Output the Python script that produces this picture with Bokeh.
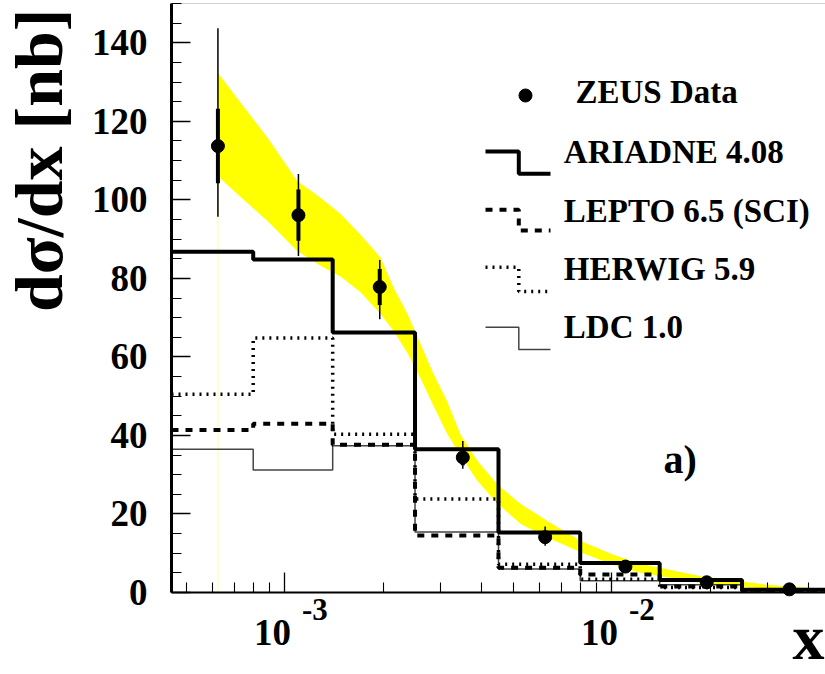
from math import log10, pi
from bokeh.plotting import figure
from bokeh.models import Label, FixedTicker, SingleIntervalTicker, CustomJSTickFormatter, BoxAnnotation
from bokeh.embed import file_html
from bokeh.resources import INLINE

# ---------------- data ----------------
bin_edges = [4.5e-4, 8e-4, 1.4e-3, 2.5e-3, 4.5e-3, 8e-3, 1.4e-2, 2.5e-2, 4.5e-2]
ariadne = [86.8, 84.8, 66.2, 36.5, 15.3, 7.5, 3.2, 0.7]
lepto = [41.4, 43.0, 37.6, 14.5, 6.3, 4.6, 1.5, 0.4]
herwig = [50.5, 64.8, 40.3, 23.8, 7.2, 3.4, 1.3, 0.3]
ldc = [36.5, 31.2, 37.4, 15.4, 6.0, 3.0, 2.0, 0.5]

data_x = [6.24e-4, 1.10e-3, 1.95e-3, 3.50e-3, 6.25e-3, 1.10e-2, 1.95e-2, 3.49e-2]
data_y = [113.7, 96.1, 77.8, 34.4, 14.1, 6.6, 2.6, 0.8]
stat_err = [9.5, 6.5, 4.6, 2.0, 1.3, 0.7, 0.4, 0.2]
tot_up = [30.0, 10.5, 6.9, 4.2, 2.7, 1.2, 0.6, 0.3]
tot_dn = [18.0, 10.4, 8.2, 2.9, 2.2, 1.0, 0.5, 0.3]

band_x = [6.24e-4, 7.0e-4, 8.85e-4, 1.09e-3, 1.285e-3, 1.48e-3, 1.70e-3, 1.96e-3,
          2.15e-3, 2.37e-3, 2.6e-3, 2.85e-3, 3.13e-3, 3.44e-3, 3.87e-3, 4.45e-3,
          5.25e-3, 6.33e-3, 8.0e-3, 1.01e-2, 1.22e-2, 1.86e-2, 2.97e-2, 4.5e-2]
band_hi = [132.3, 126.8, 115.8, 104.8, 100.5, 96.4, 91.2, 85.3, 77.6, 70.9, 63.2, 55.6,
           48.8, 40.3, 33.6, 27.6, 22.6, 18.3, 13.2, 9.6, 7.3, 4.2, 2.0, 0.9]
band_lo = [106.0, 102.2, 94.6, 87.0, 83.2, 80.5, 76.5, 71.0, 66.6, 61.0, 54.5, 47.5,
           40.5, 35.0, 28.5, 22.8, 17.5, 14.1, 10.3, 7.0, 5.0, 2.5, 0.9, 0.3]

x_major = [1e-3, 1e-2]
x_tick_base = "10"
x_title = "x"
y_title = "dσ/dx [nb]"
panel_tag = "a)"
legend_names = ["ZEUS Data", "ARIADNE 4.08", "LEPTO 6.5 (SCI)", "HERWIG 5.9", "LDC 1.0"]

# ---------------- layout ----------------
X0, X1 = 4.5e-4, 4.5e-2          # data window (axes span)
Y0, Y1 = 0.0, 150.0
W, H = 825, 674
FL, FT, FW, FH = 171, 3, 654, 589  # where the data window sits in the canvas
FONT = "Liberation Serif"
DECADE = FW / log10(X1 / X0)
BASE_SHIFT = 0.35                  # label anchor sits this many em above the baseline


def fx(px):  # canvas pixel -> data x (log axis)
    return 10 ** (log10(X0) + (px - FL) / DECADE)


def fy(py):  # canvas pixel -> data y
    return Y1 - (py - FT) / FH * (Y1 - Y0)


# the frame covers the whole canvas; axes are pinned to the data window
p = figure(width=W, height=H, x_axis_type="log", x_range=(fx(0), fx(W)),
           y_range=(fy(H), fy(0)), output_backend="svg", toolbar_location=None,
           title=None, min_border=0)
p.grid.visible = False
p.outline_line_color = None
p.background_fill_color = "white"
p.border_fill_color = "white"

# thin frame round the data window
p.add_layout(BoxAnnotation(left=X0, right=X1, bottom=Y0, top=Y1, fill_color=None,
                           line_color="#666666", line_width=1, level="underlay"))

minor = [m * 10 ** e for e in (-4, -3, -2) for m in range(2, 10) if X0 <= m * 10 ** e <= X1]
xax = p.xaxis[0]
xax.fixed_location = Y0
xax.bounds = (X0, X1)
xax.ticker = FixedTicker(ticks=x_major, minor_ticks=minor)
xax.formatter = CustomJSTickFormatter(code="return ''")
xax.major_label_text_font_size = "0px"
xax.axis_line_width = 2
xax.major_tick_in = 20
xax.major_tick_out = 0
xax.minor_tick_in = 10
xax.minor_tick_out = 0
xax.major_tick_line_width = 1.3
xax.minor_tick_line_width = 1.1

yax = p.yaxis[0]
yax.fixed_location = X0
yax.bounds = (Y0, Y1)
yax.ticker = SingleIntervalTicker(interval=20, num_minor_ticks=4)
yax.axis_line_width = 3
yax.major_tick_in = 19
yax.major_tick_out = 0
yax.minor_tick_in = 10
yax.minor_tick_out = 0
yax.major_tick_line_width = 1.3
yax.minor_tick_line_width = 1.1
yax.major_label_text_font = FONT
yax.major_label_text_font_style = "bold"
yax.major_label_text_font_size = "37px"
yax.major_label_text_color = "black"
yax.major_label_standoff = 24

# band
p.varea(x=band_x, y1=band_lo, y2=band_hi, fill_color="#ffff00")
p.segment(x0=[band_x[0]], y0=[0], x1=[band_x[0]], y1=[band_lo[0]],
          line_color="#ffff99", line_width=1)


# histograms
def step(vals, **kw):
    p.step(x=bin_edges, y=list(vals) + [vals[-1]], mode="after", **kw)


LDC_ST = dict(line_color="#444444", line_width=1.5)
HER_ST = dict(line_color="black", line_width=3.5, line_dash="2 5")
LEP_ST = dict(line_color="black", line_width=4, line_dash="7 7")
ARI_ST = dict(line_color="black", line_width=4)
step(ldc, **LDC_ST)
step(herwig, **HER_ST)
step(lepto, **LEP_ST)
step(ariadne, **ARI_ST)

# data
p.segment(x0=data_x, x1=data_x, y0=[y - d for y, d in zip(data_y, tot_dn)],
          y1=[y + u for y, u in zip(data_y, tot_up)], line_color="black", line_width=1.5)
p.segment(x0=data_x, x1=data_x, y0=[y - e for y, e in zip(data_y, stat_err)],
          y1=[y + e for y, e in zip(data_y, stat_err)], line_color="black", line_width=4)
p.scatter(data_x, data_y, size=13, color="black")

# legend keys
lk0, lk1, lk2 = 485, 518.3, 550
key_y = [(151, 173.3), (209.3, 230), (266.7, 291), (326.7, 349)]
for (ya, yb), st in zip(key_y, [ARI_ST, LEP_ST, HER_ST, LDC_ST]):
    p.line([fx(lk0), fx(lk1), fx(lk1), fx(lk2)], [fy(ya), fy(ya), fy(yb), fy(yb)], **st)
p.scatter([fx(525)], [fy(95)], size=13, color="black")


def label(px, baseline, size, **kw):
    base = dict(x=fx(px), y=fy(baseline - BASE_SHIFT * size), text_font=FONT,
                text_font_style="bold", text_color="black", text_font_size=f"{size}px",
                text_baseline="alphabetic", text_align="left")
    base.update(kw)
    p.add_layout(Label(**base))


text_x = [575, 563.3, 563.3, 563.3, 563.3]
text_base = [103.3, 163.3, 221.7, 280, 338.3]
for name, tx, tb in zip(legend_names, text_x, text_base):
    label(tx, tb, 33, text=name)

label(663, 473.3, 40, text=panel_tag)

# x tick labels: base and exponent, placed relative to the tick values
for t in x_major:
    p.add_layout(Label(x=t, y=fy(645 - BASE_SHIFT * 37), x_offset=-12.5, text=x_tick_base,
                       text_font=FONT, text_font_style="bold", text_color="black",
                       text_font_size="37px", text_align="center", text_baseline="alphabetic"))
    p.add_layout(Label(x=t, y=fy(620 - BASE_SHIFT * 31), x_offset=30, text=str(round(log10(t))),
                       text_font=FONT, text_font_style="bold", text_color="black",
                       text_font_size="31px", text_align="center", text_baseline="alphabetic"))

# axis titles
label(824, 659.5, 64, text=x_title, text_align="right")
p.add_layout(Label(x=fx(38), y=fy(8), text=y_title, angle=pi / 2, text_font=FONT,
                   text_font_style="bold", text_color="black", text_font_size="68px",
                   text_align="right", text_baseline="middle"))

open("out.html", "w").write(file_html(p, INLINE))
